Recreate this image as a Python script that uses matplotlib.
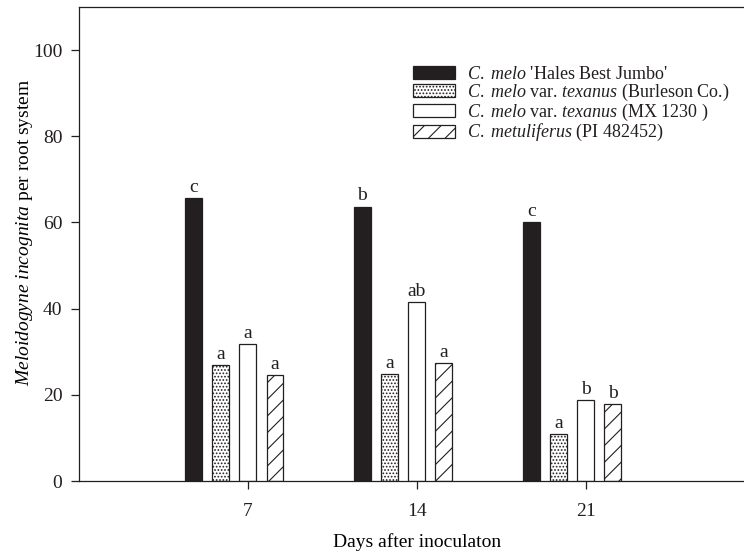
import matplotlib
matplotlib.use('Agg')
import matplotlib.pyplot as plt
from matplotlib.patches import Patch
import numpy as np

# data
days = [7, 14, 21]
hales_best = [65.7, 63.7, 60.2]
burleson = [26.9, 24.9, 10.8]
mx1230 = [31.8, 41.5, 18.7]
metuliferus = [24.6, 27.4, 17.8]
letters = [['c', 'b', 'c'],
           ['a', 'a', 'a'],
           ['a', 'ab', 'b'],
           ['a', 'a', 'b']]
series_labels = [r"$\it{C.\ melo}$ 'Hales Best Jumbo'",
                 r"$\it{C.\ melo}$ var. $\it{texanus}$ (Burleson Co.)",
                 r"$\it{C.\ melo}$ var. $\it{texanus}$ (MX 1230 )",
                 r"$\it{C.\ metuliferus}$ (PI 482452)"]

ink = '#231f20'
plt.rcParams['font.family'] = 'Liberation Serif'
plt.rcParams['mathtext.fontset'] = 'custom'
plt.rcParams['mathtext.rm'] = 'Liberation Serif'
plt.rcParams['mathtext.it'] = 'Liberation Serif:italic'
plt.rcParams['hatch.linewidth'] = 0.8
plt.rcParams['hatch.color'] = ink
plt.rcParams['text.color'] = ink

fig = plt.figure(figsize=(7.44, 5.52), dpi=100)
ax = fig.add_axes([0.1062, 0.1286, 0.9078, 0.8587])

series = [hales_best, burleson, mx1230, metuliferus]
styles = [dict(color=ink, edgecolor=ink),
          dict(color='white', edgecolor=ink, hatch='.....'),
          dict(color='white', edgecolor=ink),
          dict(color='white', edgecolor=ink, hatch='//')]
offsets = [-2, -1, 0, 1]
pitch = 1.127
width = 0.70
x = np.array(days, dtype=float)

handles = []
for vals, st, off, labs, name in zip(series, styles, offsets, letters, series_labels):
    bars = ax.bar(x + off * pitch, vals, width=width, linewidth=0.9, **st)
    for b, lab in zip(bars, labs):
        ax.annotate(lab, (b.get_x() + b.get_width() / 2, b.get_height()),
                    xytext=(0, 1.5), textcoords='offset points',
                    ha='center', va='bottom', fontsize=14)
    handles.append(Patch(facecolor=st['color'], edgecolor=ink,
                         hatch=st.get('hatch'), linewidth=0.9, label=name))

ax.set_xlim(0, 28)
ax.set_ylim(0, 110)
ax.set_xticks(days)
ax.set_yticks([0, 20, 40, 60, 80, 100])
ax.tick_params(labelsize=14, colors=ink, length=6, width=0.9, direction='out', pad=6)
ax.tick_params(axis='x', pad=10)
for s in ax.spines.values():
    s.set_color(ink)
    s.set_linewidth(0.9)

ax.set_xlabel('Days after inoculaton', fontsize=14, labelpad=9)
ax.set_ylabel(r'$\it{Meloidogyne\ incognita}$ per root system', fontsize=14)
ax.yaxis.set_label_coords(-0.065, 0.524)

ax.legend(handles=handles, loc='upper left', bbox_to_anchor=(0.481, 0.895),
          frameon=False, fontsize=13, handlelength=2.33, handleheight=0.72,
          handletextpad=0.66, labelspacing=-0.05, borderpad=0)

fig.savefig('out.png', dpi=100)
